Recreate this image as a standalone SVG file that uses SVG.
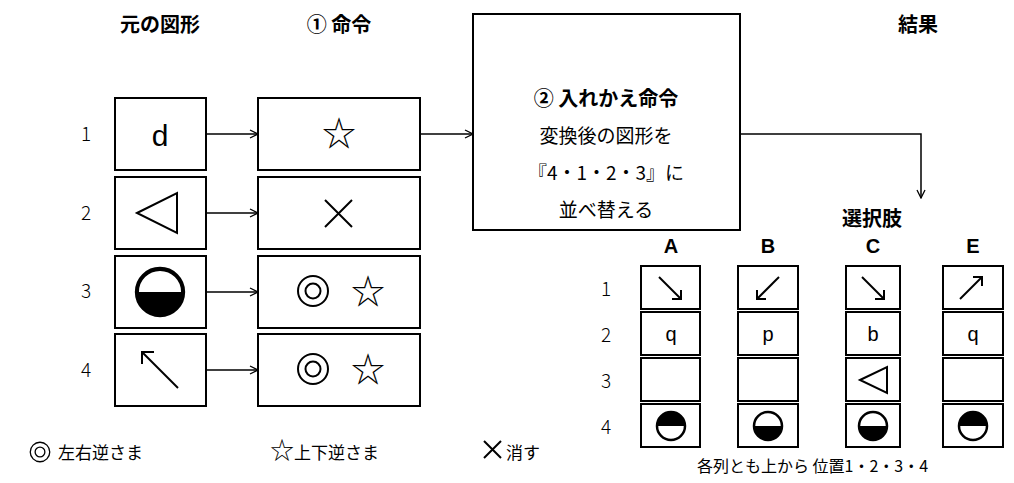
<svg xmlns="http://www.w3.org/2000/svg" width="1014" height="483" viewBox="0 0 1014 483">
<style>
.b{fill:#fff;stroke:#000;stroke-width:2}
.l{fill:none;stroke:#000;stroke-width:1.5}
.g{fill:none;stroke:#000;stroke-width:2}
text{font-family:"Noto Sans CJK JP","Noto Sans",sans-serif;fill:#000}
.h{font-size:20px;font-weight:bold;text-anchor:middle}
.n{font-size:19px;text-anchor:middle;font-weight:300}
.c{font-size:19px;text-anchor:middle}
.s{font-size:34px;text-anchor:middle}
.o{font-size:20px;text-anchor:middle}
</style>
<defs>
<marker id="a" markerWidth="10" markerHeight="10" refX="9" refY="5" orient="auto" markerUnits="userSpaceOnUse"><path d="M1,1 L9,5 L1,9" fill="none" stroke="#000" stroke-width="1.3"/></marker>
<g id="hb"><circle r="14" fill="#fff" stroke="#000" stroke-width="2.5"/><path d="M-14,0 A14,14 0 0 0 14,0 Z" fill="#000"/></g>
<g id="ht"><circle r="14" fill="#fff" stroke="#000" stroke-width="2.5"/><path d="M-14,0 A14,14 0 0 1 14,0 Z" fill="#000"/></g>
<g id="dc"><circle r="15" fill="none" stroke="#000" stroke-width="2"/><circle r="7.5" fill="none" stroke="#000" stroke-width="2"/></g>
</defs>
<text class="h" x="160" y="32">元の図形</text>
<text class="h" x="339" y="32">① 命令</text>
<text class="h" x="918" y="32">結果</text>
<text class="n" x="86" y="141">1</text><text class="n" x="86" y="220">2</text><text class="n" x="86" y="298">3</text><text class="n" x="86" y="377">4</text>
<g id="connectors">
<line class="l" x1="206" y1="134" x2="258" y2="134" marker-end="url(#a)"/>
<line class="l" x1="206" y1="213" x2="258" y2="213" marker-end="url(#a)"/>
<line class="l" x1="206" y1="292" x2="258" y2="292" marker-end="url(#a)"/>
<line class="l" x1="206" y1="370" x2="258" y2="370" marker-end="url(#a)"/>
<line class="l" x1="420" y1="134" x2="473" y2="134" marker-end="url(#a)"/>
<polyline class="l" points="740,134 921,134 921,198" marker-end="url(#a)"/>
</g>
<g id="o1"><rect class="b" x="115" y="98" width="91" height="72"/><text x="160" y="146" font-size="30" text-anchor="middle" style="font-family:'Liberation Sans',sans-serif">d</text></g>
<g id="o2"><rect class="b" x="115" y="177" width="91" height="72"/><polygon points="137,213 177,193 177,233" class="g" stroke-width="2.5"/></g>
<g id="o3"><rect class="b" x="115" y="256" width="91" height="72"/><use href="#hb" transform="translate(160 292) scale(1.65)"/></g>
<g id="o4"><rect class="b" x="115" y="334" width="91" height="72"/><line class="g" x1="178" y1="388" x2="142" y2="352"/><polyline class="g" points="142,364 142,352 154,352"/></g>
<g id="m1"><rect class="b" x="258" y="98" width="162" height="72"/><text class="s" x="339" y="146">☆</text></g>
<g id="m2"><rect class="b" x="258" y="177" width="162" height="72"/><path class="g" stroke-width="2.5" d="M325,200 L352,227 M352,200 L325,227"/></g>
<g id="m3"><rect class="b" x="258" y="256" width="162" height="72"/><use href="#dc" x="313" y="291"/><text class="s" x="368" y="304">☆</text></g>
<g id="m4"><rect class="b" x="258" y="334" width="162" height="72"/><use href="#dc" x="313" y="369"/><text class="s" x="368" y="382">☆</text></g>
<g id="swap"><rect class="b" x="473" y="14" width="267" height="216"/>
<text class="h" x="606" y="106" font-size="21">② 入れかえ命令</text>
<text class="c" x="606" y="143">変換後の図形を</text>
<text class="c" x="606" y="180">『4・1・2・3』に</text>
<text class="c" x="606" y="217">並べ替える</text></g>
<text class="h" x="872" y="226">選択肢</text>
<g font-weight="bold"><text class="o" x="671" y="253" font-size="17" style="font-family:'Liberation Sans',sans-serif">A</text><text class="o" x="768" y="253" font-size="17" style="font-family:'Liberation Sans',sans-serif">B</text><text class="o" x="873" y="253" font-size="17" style="font-family:'Liberation Sans',sans-serif">C</text><text class="o" x="973" y="253" font-size="17" style="font-family:'Liberation Sans',sans-serif">E</text></g>
<text class="n" x="606" y="296">1</text><text class="n" x="606" y="342">2</text><text class="n" x="606" y="388">3</text><text class="n" x="606" y="434">4</text>
<g id="optA"><rect class="b" x="641" y="266" width="59" height="43"/><rect class="b" x="641" y="312" width="59" height="43"/><rect class="b" x="641" y="358" width="59" height="43"/><rect class="b" x="641" y="404" width="59" height="43"/>
<line class="g" x1="659" y1="277" x2="681" y2="299"/><polyline class="g" points="672,299 681,299 681,290"/>
<text class="o" x="671" y="341" style="font-family:'Liberation Sans',sans-serif">q</text>
<use href="#ht" x="671" y="426"/></g>
<g id="optB"><rect class="b" x="738" y="266" width="60" height="43"/><rect class="b" x="738" y="312" width="60" height="43"/><rect class="b" x="738" y="358" width="60" height="43"/><rect class="b" x="738" y="404" width="60" height="43"/>
<line class="g" x1="779" y1="277" x2="757" y2="299"/><polyline class="g" points="757,290 757,299 766,299"/>
<text class="o" x="768" y="341" style="font-family:'Liberation Sans',sans-serif">p</text>
<use href="#hb" x="768" y="426"/></g>
<g id="optC"><rect class="b" x="846" y="266" width="54" height="43"/><rect class="b" x="846" y="312" width="54" height="43"/><rect class="b" x="846" y="358" width="54" height="43"/><rect class="b" x="846" y="404" width="54" height="43"/>
<line class="g" x1="862" y1="277" x2="884" y2="299"/><polyline class="g" points="875,299 884,299 884,290"/>
<text class="o" x="873" y="341" style="font-family:'Liberation Sans',sans-serif">b</text>
<polygon class="g" points="860,380 887,367 887,393"/>
<use href="#hb" x="873" y="426"/></g>
<g id="optE"><rect class="b" x="943" y="266" width="60" height="43"/><rect class="b" x="943" y="312" width="60" height="43"/><rect class="b" x="943" y="358" width="60" height="43"/><rect class="b" x="943" y="404" width="60" height="43"/>
<line class="g" x1="960" y1="299" x2="982" y2="277"/><polyline class="g" points="973,277 982,277 982,286"/>
<text class="o" x="973" y="341" style="font-family:'Liberation Sans',sans-serif">q</text>
<use href="#ht" x="973" y="426"/></g>
<text x="697" y="472" font-size="16">各列とも上から 位置1・2・3・4</text>
<use href="#dc" transform="translate(40 452) scale(0.65)"/>
<text x="58" y="459" font-size="17">左右逆さま</text>
<text x="270" y="459" font-size="17"><tspan font-size="24">☆</tspan>上下逆さま</text>
<path class="g" d="M484,441 L501,458 M501,441 L484,458"/>
<text x="506" y="459" font-size="17">消す</text>
</svg>
